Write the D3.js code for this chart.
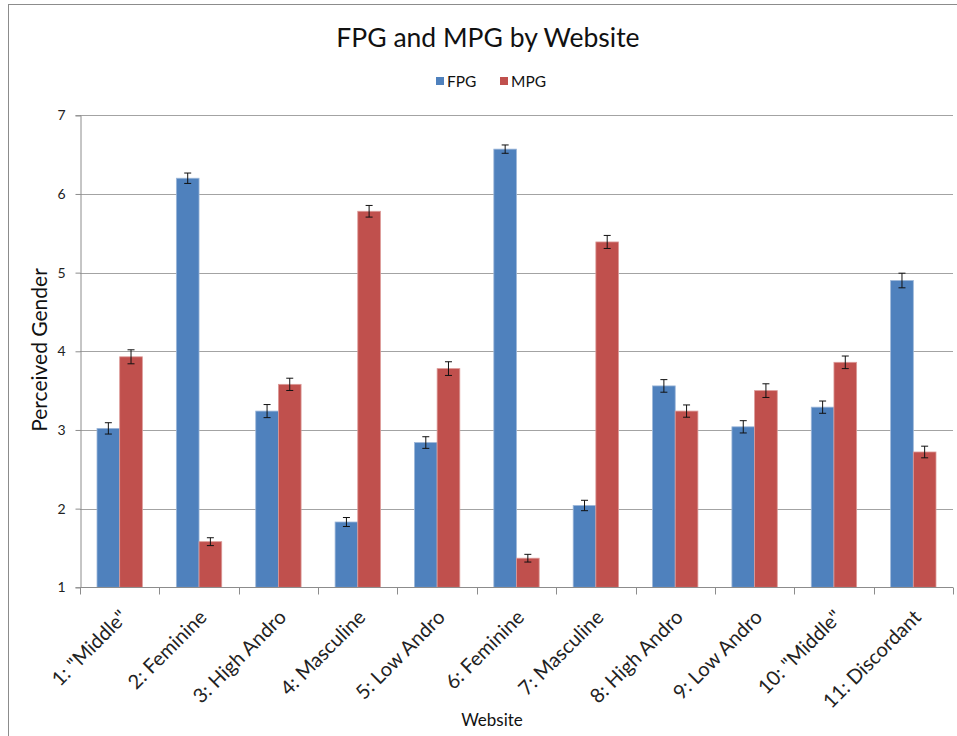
<!DOCTYPE html>
<html>
<head>
<meta charset="utf-8">
<script src="https://cdn.jsdelivr.net/npm/d3@7"></script>
<style>
  html, body { margin: 0; padding: 0; background: #fff; }
  svg { display: block; font-family: Lato, "Open Sans", sans-serif; }
</style>
</head>
<body>
<svg id="chart" width="957" height="736"></svg>
<script>
// Websites shown along the x axis
const categories = ['1: "Middle"', "2: Feminine", "3: High Andro", "4: Masculine", "5: Low Andro",
  "6: Feminine", "7: Masculine", "8: High Andro", "9: Low Andro", '10: "Middle"', "11: Discordant"];
const seriesNames = ["FPG", "MPG"];
// Mean perceived gender per website
const fpgValues = [3.02, 6.20, 3.24, 1.83, 2.84, 6.57, 2.04, 3.56, 3.04, 3.29, 4.90];
const mpgValues = [3.93, 1.58, 3.58, 5.78, 3.78, 1.37, 5.39, 3.24, 3.50, 3.86, 2.72];
// Standard errors for the error bars
const fpgErrors = [0.072, 0.066, 0.083, 0.057, 0.074, 0.053, 0.066, 0.080, 0.078, 0.078, 0.093];
const mpgErrors = [0.089, 0.050, 0.078, 0.074, 0.087, 0.049, 0.083, 0.078, 0.087, 0.080, 0.074];
const yTicks = [1, 2, 3, 4, 5, 6, 7];

const colors = { FPG: "#4F81BD", MPG: "#C0504D" };
const edge = { FPG: "#9db7d9", MPG: "#dc9a98" };

const svg = d3.select("#chart");
const plotLeft = 80, plotRight = 953, plotTop = 115.3, plotBottom = 587.3;

// outer chart frame
svg.append("rect").attr("x", 8.5).attr("y", 4.5).attr("width", 1000).attr("height", 1000)
  .attr("fill", "none").attr("stroke", "#8c8c8c").attr("stroke-width", 1);

const x = d3.scaleBand().domain(categories).range([plotLeft, plotRight]).paddingInner(0).paddingOuter(0);
const inner = d3.scaleBand().domain(seriesNames).range([0, x.bandwidth()]).paddingInner(0).paddingOuter(0.75);
const y = d3.scaleLinear().domain([1, 7]).range([plotBottom, plotTop]);

// gridlines
svg.append("g").selectAll("line").data(yTicks.slice(1)).join("line")
  .attr("x1", plotLeft).attr("x2", plotRight)
  .attr("y1", d => Math.round(y(d)) + 0.5).attr("y2", d => Math.round(y(d)) + 0.5)
  .attr("stroke", "#a3a3a3").attr("stroke-width", 1);

// y axis
const yAxis = svg.append("g").attr("transform", `translate(${plotLeft + 0.5},0)`)
  .call(d3.axisLeft(y).tickValues(yTicks).tickSize(5).tickPadding(10).tickFormat(d3.format("d")));
yAxis.select(".domain").attr("stroke", "#8c8c8c");
yAxis.selectAll(".tick line").attr("stroke", "#8c8c8c");
yAxis.selectAll("text").attr("font-size", 14).attr("fill", "#222").attr("font-family", "Lato, sans-serif");

// bars
const data = categories.map((c, i) => ({
  cat: c,
  vals: [
    { s: "FPG", v: fpgValues[i], e: fpgErrors[i] },
    { s: "MPG", v: mpgValues[i], e: mpgErrors[i] }
  ]
}));

const groups = svg.append("g").selectAll("g").data(data).join("g")
  .attr("transform", d => `translate(${x(d.cat)},0)`);

groups.selectAll("rect").data(d => d.vals).join("rect")
  .attr("x", d => inner(d.s))
  .attr("width", inner.bandwidth())
  .attr("y", d => y(d.v))
  .attr("height", d => y(1) - y(d.v))
  .attr("fill", d => colors[d.s])
  .attr("stroke", d => edge[d.s])
  .attr("stroke-width", 0.8);

// error bars
const cap = 3.5;
const eb = groups.selectAll("g.err").data(d => d.vals).join("g").attr("class", "err")
  .attr("transform", d => `translate(${inner(d.s) + inner.bandwidth() / 2},0)`)
  .attr("stroke", "#111").attr("stroke-width", 1);
eb.append("line").attr("x1", 0).attr("x2", 0).attr("y1", d => y(d.v + d.e)).attr("y2", d => y(d.v - d.e));
eb.append("line").attr("x1", -cap).attr("x2", cap).attr("y1", d => y(d.v + d.e)).attr("y2", d => y(d.v + d.e));
eb.append("line").attr("x1", -cap).attr("x2", cap).attr("y1", d => y(d.v - d.e)).attr("y2", d => y(d.v - d.e));

// x axis with ticks at category boundaries
const xAxisG = svg.append("g").attr("transform", `translate(0,${Math.round(plotBottom) + 0.5})`);
xAxisG.append("line").attr("x1", plotLeft).attr("x2", plotRight).attr("stroke", "#8c8c8c");
const bounds = d3.range(categories.length + 1).map(i => plotLeft + i * x.bandwidth());
xAxisG.selectAll("line.tk").data(bounds).join("line").attr("class", "tk")
  .attr("x1", d => Math.round(d) + 0.5).attr("x2", d => Math.round(d) + 0.5)
  .attr("y1", 0).attr("y2", 7).attr("stroke", "#8c8c8c");

xAxisG.selectAll("text").data(categories).join("text")
  .attr("transform", d => `translate(${x(d) + x.bandwidth() / 2 - 1},${21}) rotate(-45)`)
  .attr("text-anchor", "end")
  .attr("dy", "0.71em")
  .attr("font-size", 20)
  .attr("fill", "#222")
  .text(d => d);

// titles
svg.append("text").attr("x", 488).attr("y", 47).attr("text-anchor", "middle")
  .attr("font-size", 26.5).attr("fill", "#111").text("FPG and MPG by Website");
svg.append("text").attr("transform", "translate(47,350) rotate(-90)").attr("text-anchor", "middle")
  .attr("font-size", 21).attr("fill", "#111").text("Perceived Gender");
svg.append("text").attr("x", 492).attr("y", 726).attr("text-anchor", "middle")
  .attr("font-size", 17).attr("fill", "#111").text("Website");

// legend
const legend = svg.append("g").attr("transform", "translate(436,74)");
const items = legend.selectAll("g").data(seriesNames).join("g")
  .attr("transform", (d, i) => `translate(${i * 64},0)`);
items.append("rect").attr("width", 8).attr("height", 8).attr("y", 3).attr("fill", d => colors[d]);
items.append("text").attr("x", 11).attr("y", 13).attr("font-size", 15.5).attr("fill", "#111").text(d => d);
</script>
</body>
</html>
